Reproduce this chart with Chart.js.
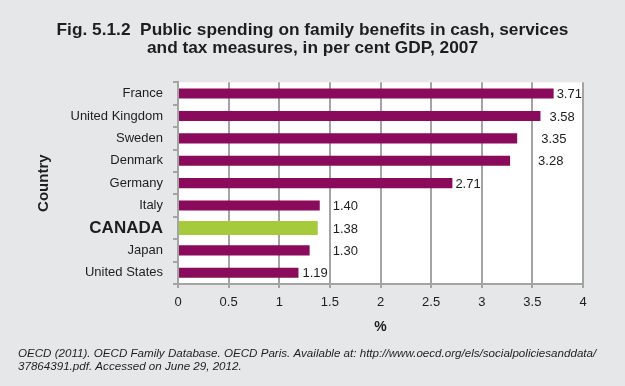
<!DOCTYPE html>
<html>
<head>
<meta charset="utf-8">
<script src="https://cdn.jsdelivr.net/npm/chart.js@4"></script>
<style>
  body { margin: 0; background: #e6e7e8; }
  canvas { display: block; }
</style>
</head>
<body>
<canvas id="grafica" width="625" height="386"></canvas>
<script>
const countries = ['France', 'United Kingdom', 'Sweden', 'Denmark', 'Germany', 'Italy', 'CANADA', 'Japan', 'United States'];
const spending = [3.71, 3.58, 3.35, 3.28, 2.71, 1.40, 1.38, 1.30, 1.19];
const valueLabels = ['3.71', '3.58', '3.35', '3.28', '2.71', '1.40', '1.38', '1.30', '1.19'];
const highlight = 'CANADA';
const xMin = 0, xMax = 4, xStep = 0.5;

const footnote = [
  'OECD (2011). OECD Family Database. OECD Paris. Available at: http://www.oecd.org/els/socialpoliciesanddata/',
  '37864391.pdf. Accessed on June 29, 2012.'
];

// label nudges to the right of bar ends (px), as in the original figure
const labelNudge = [3, 9, 24, 28, 3, 13, 15, 23, 4];

const purple = '#8a0a5c';
const green = '#a6ca3c';
const gridGray = '#a4a4a4';
const ink = '#1e1e1e';

Chart.defaults.font.family = '"Liberation Sans", Arial, sans-serif';
Chart.defaults.color = ink;

const fondo = {
  id: 'fondo',
  beforeDraw(chart) {
    const { ctx, chartArea: a } = chart;
    ctx.save();
    ctx.fillStyle = '#e6e7e8';
    ctx.fillRect(0, 0, chart.width, chart.height);
    ctx.fillStyle = '#ffffff';
    ctx.fillRect(a.left, a.top, a.right - a.left, a.bottom - a.top);
    ctx.restore();
  }
};

const etiquetas = {
  id: 'etiquetas',
  afterDatasetsDraw(chart) {
    const ctx = chart.ctx;
    ctx.save();
    ctx.font = '13px "Liberation Sans", Arial, sans-serif';
    ctx.fillStyle = ink;
    ctx.textBaseline = 'middle';
    ctx.textAlign = 'left';
    chart.data.datasets.forEach((ds, di) => {
      chart.getDatasetMeta(di).data.forEach((bar, i) => {
        if (ds.data[i] == null) return;
        ctx.fillText(valueLabels[i], bar.x + labelNudge[i], bar.y + 1);
      });
    });
    ctx.restore();
  }
};

const nota = {
  id: 'nota',
  afterDraw(chart) {
    const ctx = chart.ctx;
    ctx.save();
    ctx.font = 'italic 11.6px "Liberation Sans", Arial, sans-serif';
    ctx.fillStyle = ink;
    ctx.textBaseline = 'middle';
    ctx.fillText(footnote[0], 18, chart.height - 32);
    ctx.fillText(footnote[1], 18, chart.height - 19);
    ctx.restore();
  }
};

const ctx = document.getElementById('grafica').getContext('2d');
new Chart(ctx, {
  type: 'bar',
  data: {
    labels: countries,
    datasets: [{
      label: 'Public spending, % GDP',
      data: spending.map((v, i) => countries[i] === highlight ? null : v),
      backgroundColor: purple,
      barPercentage: 0.45,
      categoryPercentage: 1
    }, {
      label: highlight,
      data: spending.map((v, i) => countries[i] === highlight ? v : null),
      backgroundColor: green,
      barPercentage: 0.62,
      categoryPercentage: 1
    }]
  },
  options: {
    indexAxis: 'y',
    responsive: false,
    animation: false,
    devicePixelRatio: 1,
    layout: { padding: { left: 0, right: 0, top: 0, bottom: 45 } },
    plugins: {
      legend: { display: false },
      tooltip: { enabled: false },
      title: {
        display: true,
        text: ['Fig. 5.1.2  Public spending on family benefits in cash, services', 'and tax measures, in per cent GDP, 2007'],
        font: { size: 17.3, weight: 'bold', lineHeight: 1.05 },
        color: ink,
        padding: { top: 21, bottom: 25 }
      }
    },
    scales: {
      x: {
        stacked: true,
        min: xMin,
        max: xMax,
        ticks: { stepSize: xStep, font: { size: 13 }, color: ink, padding: 7, callback: (v) => String(v) },
        grid: { color: gridGray, lineWidth: 2, tickLength: 4, drawTicks: true },
        border: { color: gridGray, width: 2 },
        title: { display: true, text: '%', font: { size: 14, weight: 'bold' }, color: ink, padding: { top: 0, bottom: 5 } },
        afterFit(s) { s.height = 57; }
      },
      y: {
        stacked: true,
        ticks: {
          autoSkip: false,
          padding: 10,
          color: ink,
          font: (c) => c.tick && c.tick.label === highlight ? { size: 17, weight: 'bold' } : { size: 13 }
        },
        grid: { drawOnChartArea: false, drawTicks: true, tickLength: 5, color: gridGray, lineWidth: 2, offset: true },
        border: { color: gridGray, width: 2 },
        title: { display: true, text: 'Country', font: { size: 15, weight: 'bold' }, color: ink, padding: { top: 35, bottom: 0 } },
        afterFit(s) { s.width = 178; }
      },
      marge: {
        type: 'linear',
        position: 'right',
        display: true,
        ticks: { display: false },
        grid: { display: false },
        border: { display: false },
        afterFit(s) { s.width = 42; }
      }
    }
  },
  plugins: [fondo, etiquetas, nota]
});
</script>
</body>
</html>
